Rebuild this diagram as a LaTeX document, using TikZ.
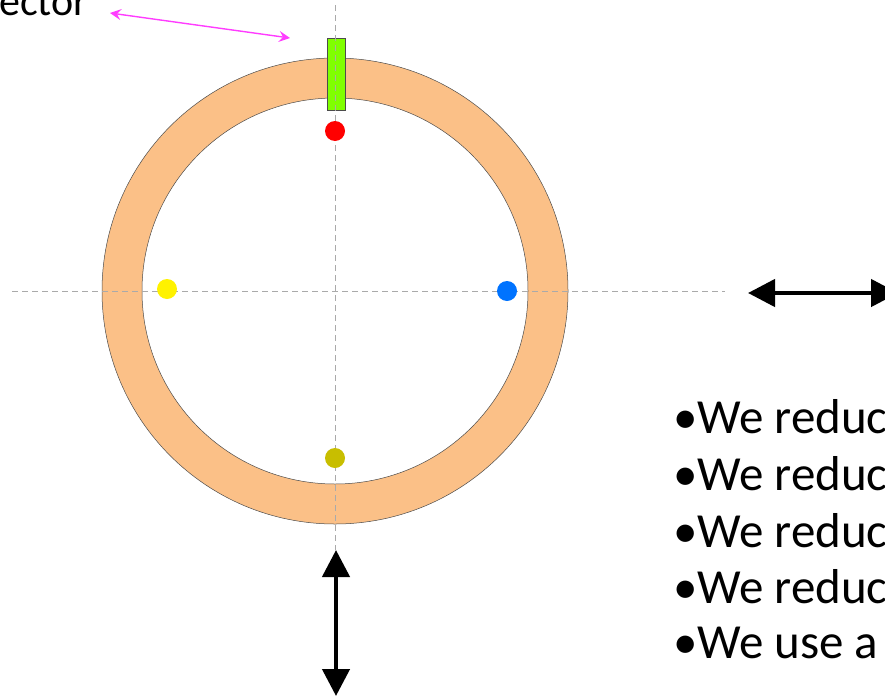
\documentclass[tikz,border=0pt]{standalone}
\usepackage{fontspec}
\setmainfont{Carlito}
\usetikzlibrary{arrows.meta}
\usetikzlibrary{positioning}

\definecolor{ringorange}{RGB}{251,192,135}
\definecolor{padgreen}{RGB}{128,255,0}
\definecolor{guidegray}{RGB}{170,170,170}
\definecolor{dotblue}{RGB}{0,115,255}
\definecolor{dotolive}{RGB}{200,190,0}
\definecolor{tagpink}{RGB}{255,60,255}

\tikzset{
  guide/.style={guidegray,dash pattern=on 6pt off 4pt,line width=0.9pt},
  sensor/.style={circle,inner sep=0pt,minimum size=20pt},
  bigarrow/.style={line width=4.5pt,{Triangle[length=27pt,width=27pt]}-{Triangle[length=27pt,width=27pt]}},
  bulletline/.style={anchor=base west,inner sep=0pt,font=\fontsize{49}{58}\selectfont},
}

\begin{document}
\begin{tikzpicture}[x=1pt,y=-1pt]
                \useasboundingbox (0,0) rectangle (885,696);
                \clip (0,0) rectangle (885,696);

                \coordinate (c) at (335,291);

                % ring
                \fill[ringorange,even odd rule] (c) circle (233pt) (c) circle (193pt);
                \draw[gray!60!black,line width=0.5pt] (c) circle (233pt) (c) circle (193pt);

                % pad on top of the ring
                \draw[gray!60!black,fill=padgreen,line width=0.5pt] (327,38) rectangle (345,110);

                % guides
                \coordinate (hl) at (12,291);
                \coordinate (hr) at (725,291);
                \coordinate (vt) at (335,5);
                \coordinate (vb) at (335,550);
                \draw[guide] (hl) -- (hr);
                \draw[guide] (vt) -- (vb);

                % sensors
                \node[sensor,fill=red] (top) at (335,131) {};
                \node[sensor,fill=yellow] (left) at (167,289) {};
                \node[sensor,fill=dotblue] (right) at (507,291) {};
                \node[sensor,fill=dotolive] (bottom) at (335,458) {};

                % label and its arrow
                \node[anchor=base west,inner sep=0pt,font=\fontsize{42}{50}\selectfont] (lbl) at (-1,16) {ector};
                \coordinate (pa) at (110,13);
                \coordinate (pb) at (290,38);
                \draw[tagpink,line width=1.4pt,{Stealth[length=11pt,width=11pt,inset=4pt]}-{Stealth[length=11pt,width=11pt,inset=4pt]}] (pa) -- (pb);

                % motion arrows
                \coordinate (ha) at (748,293);
                \coordinate (hb) at (898,293);
                \coordinate (va) at (336,550);
                \coordinate (vz) at (336,696);
                \draw[bigarrow] (ha) -- (hb);
                \draw[bigarrow] (va) -- (vz);

                % bullets
                \node[bulletline] (b1) at (673,433) {\makebox[24pt][l]{•}We reduce};
                \node[bulletline] (b2) at (673,490) {\makebox[24pt][l]{•}We reduce};
                \node[bulletline] (b3) at (673,547) {\makebox[24pt][l]{•}We reduce};
                \node[bulletline] (b4) at (673,603) {\makebox[24pt][l]{•}We reduce};
                \node[bulletline] (b5) at (673,658) {\makebox[24pt][l]{•}We use a};
            \end{tikzpicture}
\end{document}
